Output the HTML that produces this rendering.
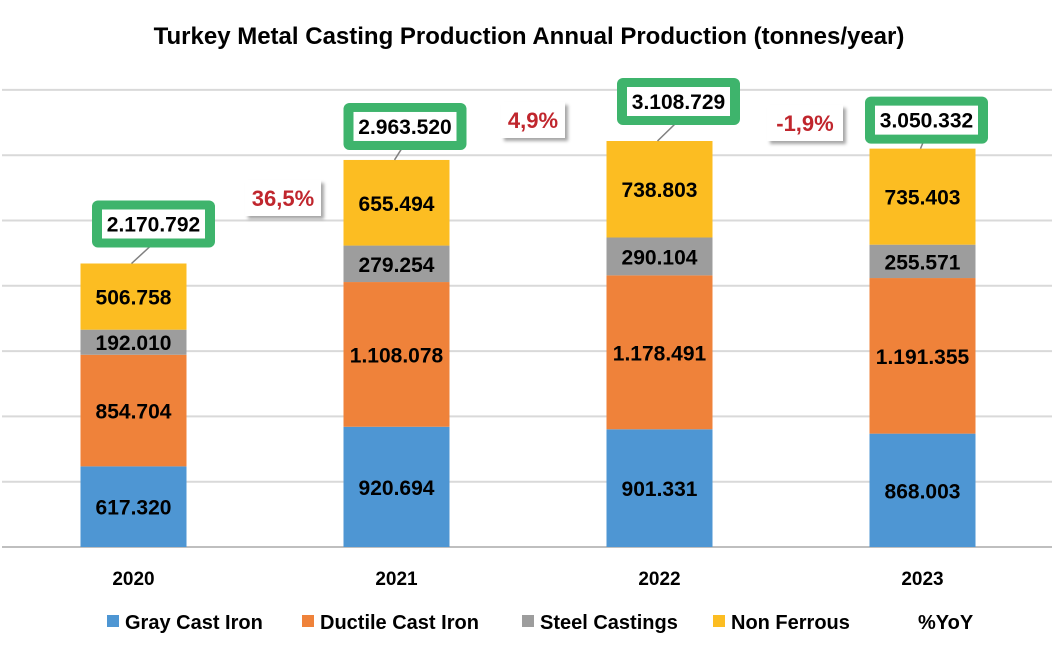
<!DOCTYPE html>
<html><head><meta charset="utf-8"><style>
body{margin:0;background:#fff;}
svg{display:block;font-family:"Liberation Sans",sans-serif;}
</style></head><body>
<svg id="c" width="1058" height="655">
<defs><filter id="sh" x="-20%" y="-20%" width="150%" height="160%"><feDropShadow dx="3" dy="3" stdDeviation="1.5" flood-color="#000" flood-opacity="0.35"/></filter></defs>
<text x="529" y="44" text-anchor="middle" font-size="24" font-weight="bold" fill="#000">Turkey Metal Casting Production Annual Production (tonnes/year)</text>
<g id="grid"></g><g id="bars"></g><g id="labels"></g><g id="legend"></g>
</svg>
<script>
const years=["2020","2021","2022","2023"];
const gray=[617320,920694,901331,868003];
const ductile=[854704,1108078,1178491,1191355];
const steel=[192010,279254,290104,255571];
const nonf=[506758,655494,738803,735403];
const totals=["2.170.792","2.963.520","3.108.729","3.050.332"];
const yoy=["","36,5%","4,9%","-1,9%"];
const gridTicks=[0,500000,1000000,1500000,2000000,2500000,3000000,3500000];
const series=[{n:"Gray Cast Iron",c:"#4e96d3",v:gray},{n:"Ductile Cast Iron",c:"#ef823a",v:ductile},{n:"Steel Castings",c:"#9d9d9d",v:steel},{n:"Non Ferrous",c:"#fcbd22",v:nonf}];
const boxDx=[-41.5,-53,-42.5,-57.5];
const boxDy=[-63,-57,-63,-52];
const yoyPos=[[0,0],[283,198],[533,120],[805,123]];
const NS="http://www.w3.org/2000/svg";
const base=547,pxPer=65.3/500000;
const y=v=>base-v*pxPer;
const xc=i=>133.5+i*263;
const bw=106;
function mk(t,a,p){const e=document.createElementNS(NS,t);for(const k in a)e.setAttribute(k,a[k]);p.appendChild(e);return e;}
const g=document.getElementById('grid');
gridTicks.forEach((t,i)=>{const l=mk('line',{x1:2,x2:1052,y1:y(t),y2:y(t),stroke:i==0?'#bfbfbf':'#d9d9d9','stroke-width':2},g);

});
const b=document.getElementById('bars'),L=document.getElementById('labels');
const fmt=v=>v.toString().replace(/\B(?=(\d{3})+(?!\d))/g,'.');
years.forEach((yr,i)=>{let cum=0;
 series.forEach((s,j)=>{const v=s.v[i];const r=mk('rect',{x:xc(i)-bw/2,y:y(cum+v),width:bw,height:v*pxPer,fill:s.c},b);
 
 
 const t=mk('text',{x:xc(i),y:y(cum+v/2)+8,'text-anchor':'middle','font-size':21,'font-weight':'bold',fill:'#000'},L);t.textContent=fmt(v);
 
 
 cum+=v;});
 const top=y(cum);
 const bx=xc(i)+boxDx[i], by=top+boxDy[i];
 mk('line',{x1:xc(i)-2,y1:top,x2:bx+58,y2:by+46,stroke:'#808080','stroke-width':1.5},L);
 const gb=mk('rect',{x:bx,y:by,width:123,height:47,rx:6,fill:'#3eb46c'},L);
 
 
 mk('rect',{x:bx+10,y:by+9,width:103,height:29,fill:'#fff'},L);
 const tt=mk('text',{x:bx+61.5,y:by+31,'text-anchor':'middle','font-size':21,'font-weight':'bold',fill:'#000'},L);tt.textContent=totals[i];
 
 
 const xl=mk('text',{x:xc(i),y:585,'text-anchor':'middle','font-size':19,'font-weight':'bold',fill:'#000'},L);xl.textContent=yr;
 
 
 if(yoy[i]){const w=yoy[i].length*12+16;const cx=yoyPos[i][0];const cy=yoyPos[i][1];
  const r=mk('rect',{x:cx-w/2,y:cy-18,width:w,height:36,fill:'#fff',filter:'url(#sh)'},L);
  
  
  const t=mk('text',{x:cx,y:cy+8,'text-anchor':'middle','font-size':22,'font-weight':'bold',fill:'#c0262d'},L);t.textContent=yoy[i];
  
  }
});
const lg=document.getElementById('legend');
const lx=[107,302,522,713,900];
series.concat([{n:"%YoY",c:null}]).forEach((s,i)=>{
 if(s.c){const r=mk('rect',{x:lx[i],y:615,width:12,height:12,fill:s.c},lg);
 
 }
 const t=mk('text',{x:lx[i]+18,y:629,'font-size':20,'font-weight':'bold',fill:'#000'},lg);t.textContent=s.n;
 
 
});
</script>
</body></html>
